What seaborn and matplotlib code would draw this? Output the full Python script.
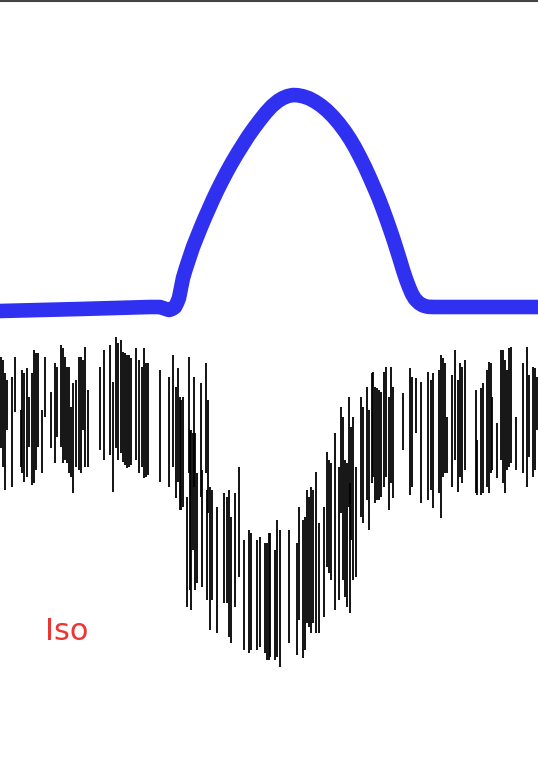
import matplotlib
matplotlib.use("Agg")
import matplotlib.pyplot as plt
import seaborn as sns
import pandas as pd

# blue curve (pixel-like units, y grows downward)
curve_x = [-5, 0, 80, 150, 160, 163, 166, 169, 172, 175, 177, 179, 180, 181, 182, 183, 186,
           189, 193, 197, 201, 205, 209, 213, 217, 222, 227, 232, 237, 242, 248, 254, 260,
           266, 272, 278, 283, 288, 293, 298, 303, 309, 315, 321, 327, 333, 339, 345, 350,
           355, 360, 365, 370, 375, 379, 383, 387, 391, 394, 397, 400, 403, 406, 409, 412,
           415, 419, 423, 428, 434, 450, 538, 545]
curve_y = [311, 311, 309, 307, 307, 308, 309, 310, 309, 307, 303, 298, 293, 288, 283, 278, 268,
           259, 247, 237, 227, 217.5, 208.5, 199.5, 191, 181, 171.5, 162.5, 154, 146, 136.5, 128, 120,
           112.5, 106, 101, 98, 96, 95, 95.3, 96.3, 98.3, 101.5, 105.5, 110.5, 116.5, 123.5, 131.5, 139,
           147.5, 157, 167, 178, 189.5, 199, 209.5, 220.5, 232, 241, 250.5, 260, 270, 279, 287, 294,
           299, 303, 305.5, 306.8, 307, 307, 307, 307]

# black trace: x position, top and bottom of every vertical stroke
seg_x = [1, 3, 5, 7, 12, 15, 21, 22, 24, 27, 29, 32, 34, 36, 38, 42, 45, 51, 55, 57,
         61, 63, 65, 67, 69, 71, 73, 76, 79, 81, 83, 85, 88,
         100, 104, 110, 113, 116, 118, 121, 123, 125, 127, 129, 131, 136, 139, 142, 144,
         146, 148, 160, 169, 173, 176, 178, 180,
         181, 183, 187, 189, 190, 191, 193, 194, 195, 197, 201, 202, 206, 207, 208, 210,
         212, 217, 224, 227, 229, 231, 235, 239, 244, 249, 251, 257, 260, 265, 267, 269,
         270, 275, 277, 280, 289, 297, 299, 303, 305, 307, 309, 311, 313, 316, 319, 324,
         327, 329, 331, 335, 339, 341, 343, 345, 347, 349, 349.5, 351, 353, 356,
         361, 363, 367, 369, 372, 373, 375, 377, 379, 381, 384, 386, 389, 391, 393, 403,
         410, 412, 416, 421, 428, 431, 433, 439, 441, 443, 445, 447,
         452, 455, 458, 460, 462, 465, 476, 477, 481, 483, 487, 489, 491, 492, 497, 501,
         503, 505, 507, 509, 511, 516, 523, 527, 529, 533, 535, 537]
seg_top = [357, 360, 373, 380, 377, 357, 410, 370, 373, 368, 397, 373, 350, 353, 353, 410,
           357, 392, 363, 367, 345, 348, 357, 367, 367, 407, 383, 380, 357, 357, 360, 347, 390,
           367, 350, 345, 382, 337, 343, 340, 352, 353, 355, 355, 358, 348, 360, 367, 348,
           363, 363, 370, 377, 355, 387, 368, 397,
           400, 397, 497, 357, 430, 430, 433, 377, 433, 473, 383, 470, 363, 490, 400, 487,
           490, 507, 493, 497, 490, 517, 493, 467, 540, 530, 533, 540, 537, 543, 543, 533,
           533, 550, 520, 530, 530, 543, 507, 520, 517, 490, 497, 487, 490, 472, 523, 507,
           452, 460, 463, 433, 467, 407, 417, 460, 463, 397, 483, 427, 417, 467,
           397, 407, 387, 410, 373, 372, 387, 388, 390, 392, 372, 367, 397, 367, 387, 393,
           368, 377, 378, 382, 372, 380, 373, 370, 355, 358, 363, 417,
           375, 350, 380, 363, 367, 360, 390, 440, 388, 383, 370, 362, 363, 397, 423, 350,
           350, 360, 370, 348, 347, 417, 363, 347, 375, 367, 368, 377]
seg_bottom = [448, 467, 490, 430, 487, 412, 467, 473, 482, 477, 447, 485, 483, 470, 447, 473,
              417, 448, 463, 437, 447, 463, 460, 463, 473, 477, 493, 467, 470, 473, 430, 467, 467,
              450, 460, 455, 492, 448, 460, 453, 462, 465, 468, 467, 465, 460, 473, 467, 478,
              477, 475, 482, 487, 467, 498, 482, 510,
              510, 507, 607, 473, 590, 610, 550, 487, 590, 583, 497, 587, 473, 600, 513, 630,
              600, 633, 603, 603, 637, 643, 607, 577, 650, 653, 650, 650, 647, 653, 660, 660,
              657, 660, 657, 667, 643, 655, 620, 658, 650, 623, 627, 633, 623, 633, 633, 617,
              567, 573, 580, 610, 600, 513, 580, 597, 607, 507, 613, 540, 580, 577,
              517, 523, 500, 530, 483, 477, 503, 500, 500, 497, 487, 477, 510, 483, 498, 450,
              495, 487, 433, 503, 500, 490, 508, 493, 518, 477, 473, 473,
              487, 460, 492, 477, 483, 470, 493, 495, 495, 493, 487, 493, 473, 470, 478, 460,
              483, 493, 470, 467, 463, 470, 473, 487, 457, 477, 470, 430]

label_text = "Iso"

curve = pd.DataFrame({"x": curve_x, "y": curve_y})
trace = pd.DataFrame({"x": seg_x, "top": seg_top, "bottom": seg_bottom})

sns.set_style("white")
fig = plt.figure(figsize=(5.38, 7.57), dpi=100)
ax = fig.add_axes([0, 0, 1, 1])

ax.vlines(trace["x"], trace["top"], trace["bottom"], color="black", linewidth=1.3)

sns.lineplot(data=curve, x="x", y="y", color="#3030f0", linewidth=10.5, sort=False,
             ax=ax, solid_capstyle="round", solid_joinstyle="round")

ax.axhline(0.6, color="#444444", linewidth=1.5)
ax.text(45, 640, label_text, color="#ee3333", fontsize=22, ha="left", va="baseline")

ax.set_xlim(0, 538)
ax.set_ylim(757, 0)
ax.axis("off")

fig.savefig("out.png", dpi=100)
